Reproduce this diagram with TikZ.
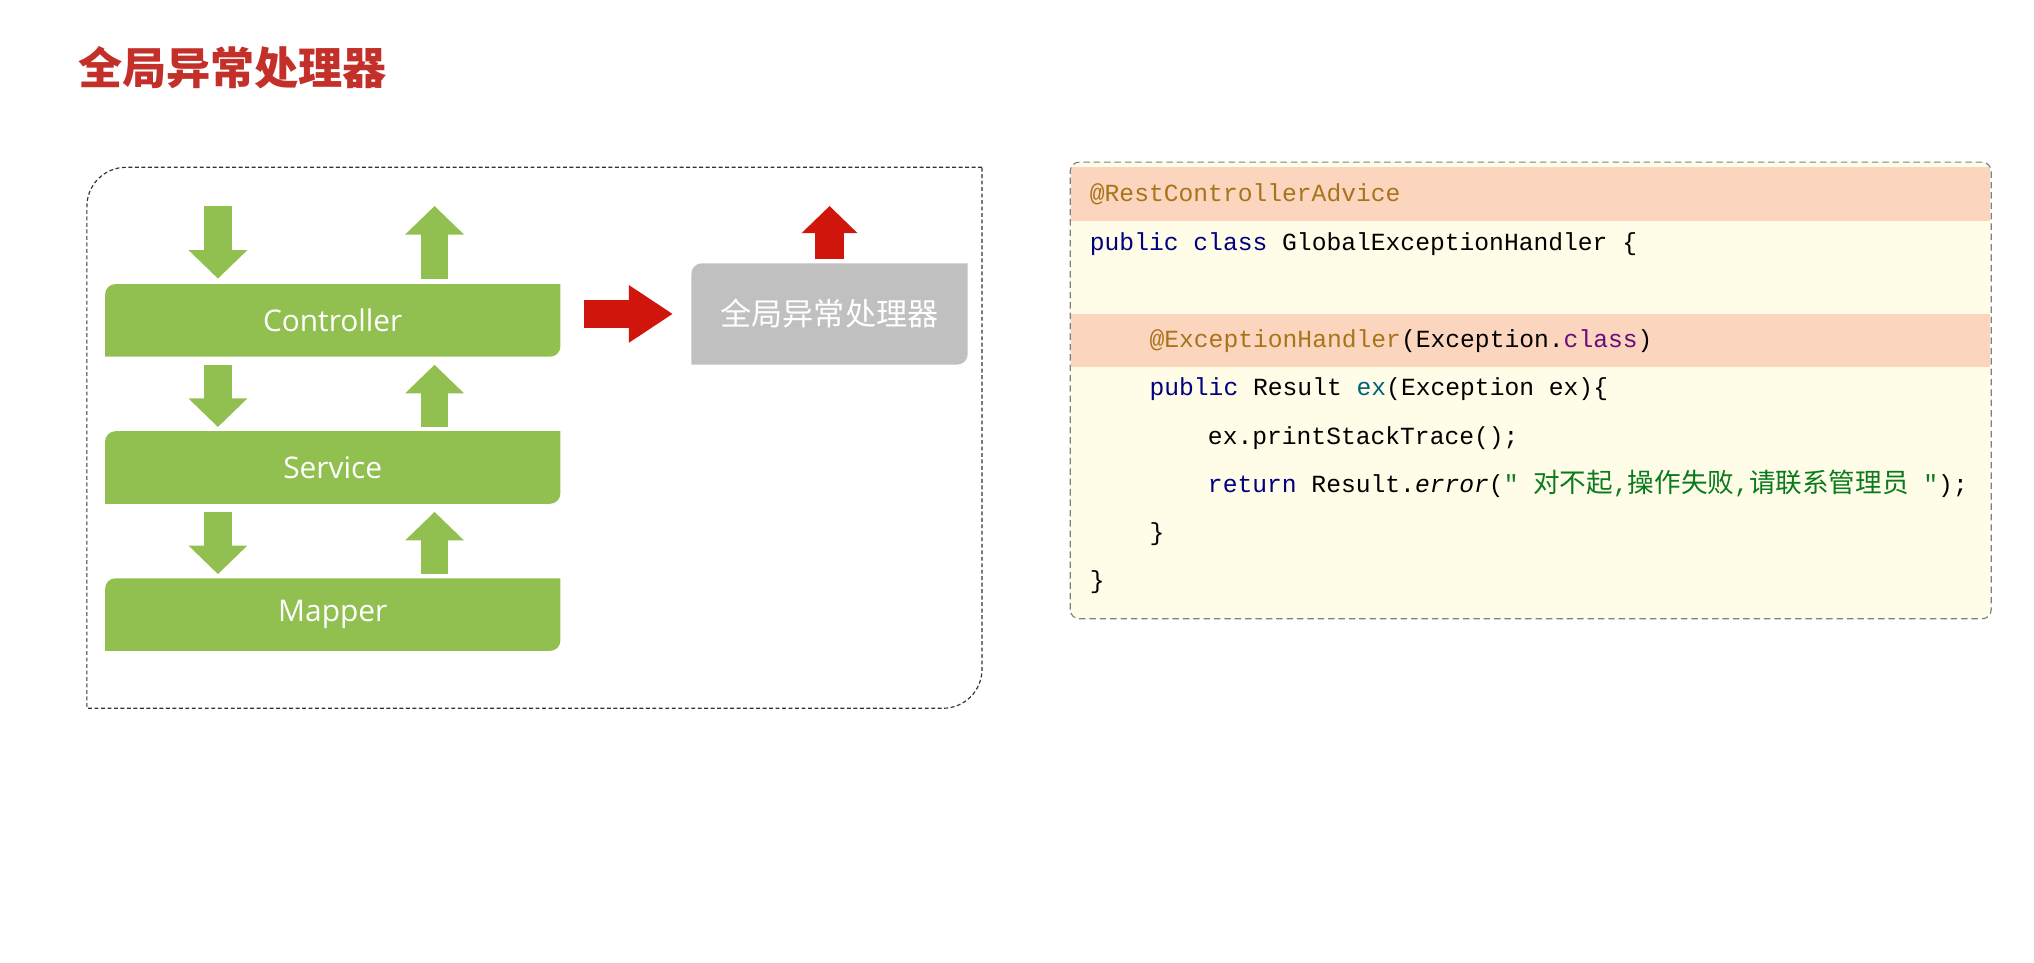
\documentclass[tikz,border=0pt]{standalone}
\usepackage{fontspec}
\setmainfont{Open Sans}
\newfontfamily\cjk{Noto Sans CJK SC}
\newfontfamily\codefont{Liberation Mono}
\usetikzlibrary{arrows.meta,positioning}
\definecolor{boxgreen}{HTML}{92C050}
\definecolor{handlergray}{HTML}{C0C0C0}
\definecolor{alarmred}{HTML}{D0150C}
\definecolor{titlered}{HTML}{C3302A}
\definecolor{codebg}{HTML}{FFFDE8}
\definecolor{codeband}{HTML}{FCD5BE}
\definecolor{annot}{HTML}{A8741A}
\definecolor{kw}{HTML}{000080}
\definecolor{kwpurple}{HTML}{660E7A}
\definecolor{meth}{HTML}{00627A}
\definecolor{str}{HTML}{0B7A1E}
\tikzset{
    two corners/.style={path picture={
        \fill[#1] (path picture bounding box.south west)
            -- ([yshift=-8pt]path picture bounding box.north west)
            arc[start angle=180, end angle=90, radius=8pt]
            -- (path picture bounding box.north east)
            -- ([yshift=8pt]path picture bounding box.south east)
            arc[start angle=0, end angle=-90, radius=8pt] -- cycle;}},
    layer box/.style={two corners=boxgreen, minimum width=351pt, minimum height=56pt,
        inner sep=0pt, text=white, font=\fontsize{23}{27}\selectfont},
    handler box/.style={two corners=handlergray, minimum width=213pt, minimum height=78pt,
        inner sep=0pt, text=white, font=\cjk\fontsize{24}{28}\selectfont},
    flow/.style={line width=21pt, boxgreen, -{Triangle[length=22pt, width=44pt]}},
    alarm/.style={line width=22pt, alarmred, -{Triangle[length=#1, width=42pt]}},
    code line/.style={anchor=base west, inner sep=0pt, font=\codefont\fontsize{19}{22}\selectfont}
}
\newcommand{\zhcode}[1]{{\cjk\fontsize{20.5}{22}\selectfont #1}}
\begin{document}
\begin{tikzpicture}[x=1pt, y=1pt]
    \useasboundingbox (0,0) rectangle (1568,742);

    \node[anchor=west, inner sep=0pt, text=titlered, font=\cjk\bfseries\fontsize{34}{40}\selectfont]
        (title) at (60,690) {全局异常处理器};

    % layers
    \draw[black!80, line width=0.9pt, dash pattern=on 3pt off 2pt]
        (757,613) -- (97,613) arc[start angle=90, end angle=180, radius=30]
        -- (67,196) -- (727,196) arc[start angle=270, end angle=360, radius=30] -- cycle;
    \node[layer box] (ctl) at (256.5,495) {Controller};
    \node[layer box, below=57pt of ctl] (svc) {Service};
    \node[layer box, below=57pt of svc] (mpr) {Mapper};

    \draw[flow] ([xshift=-88.5pt, yshift=60pt]ctl.north) -- ([xshift=-88.5pt, yshift=4pt]ctl.north);
    \draw[flow] ([xshift=78.5pt, yshift=4pt]ctl.north) -- ([xshift=78.5pt, yshift=60pt]ctl.north);
    \foreach \a/\b in {ctl/svc, svc/mpr}{
        \draw[flow] ([xshift=-88.5pt, yshift=-6pt]\a.south) -- ([xshift=-88.5pt, yshift=3pt]\b.north);
        \draw[flow] ([xshift=78.5pt, yshift=3pt]\b.north) -- ([xshift=78.5pt, yshift=-6pt]\a.south);
    }

    \node[handler box] (handler) at (639.5,500) {全局异常处理器};
    \draw[alarm=34pt] ([xshift=18pt, yshift=5pt]ctl.east) -- ([xshift=-14pt]handler.west);
    \draw[alarm=21pt] ([yshift=3pt]handler.north) -- ([yshift=44pt]handler.north);

    % code
    \fill[codebg, rounded corners=7pt] (825,265) rectangle (1535,617);
    \fill[codeband] (826,572) rectangle (1534,613);
    \fill[codeband] (826,459) rectangle (1534,500);
    \draw[black!50, line width=0.9pt, dash pattern=on 5pt off 3pt, rounded corners=7pt] (825,265) rectangle (1535,617);

    \node[code line, text=annot] (l1) at (840,587) {@RestControllerAdvice};
    \node[code line] (l2) at (840,549) {{\color{kw}public class} GlobalExceptionHandler \{};
    \node[code line] (l4) at (886,474) {{\color{annot}@ExceptionHandler}(Exception.{\color{kwpurple}class})};
    \node[code line] (l5) at (886,437) {{\color{kw}public} Result {\color{meth}ex}(Exception ex)\{};
    \node[code line] (l6) at (931,399) {ex.printStackTrace();};
    \node[code line] (l7) at (931,362) {{\color{kw}return} Result.\textit{error}({\color{str}" \zhcode{对不起},\zhcode{操作失败},\zhcode{请联系管理员} "});};
    \node[code line] (l8) at (886,325) {\}};
    \node[code line] (l9) at (840,288) {\}};
\end{tikzpicture}
\end{document}
